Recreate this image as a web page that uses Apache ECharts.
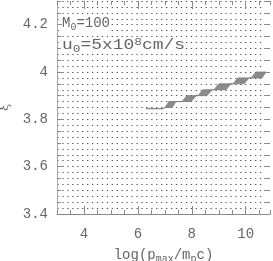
<!DOCTYPE html>
<html>
<head>
<meta charset="utf-8">
<script src="https://cdn.jsdelivr.net/npm/echarts@6/dist/echarts.min.js"></script>
<style>html,body{margin:0;padding:0;background:#fff}#c{width:273px;height:261px}</style>
</head>
<body>
<div id="c"></div>
<script>
// ---- data ----
const xLabelValues = [4, 6, 8, 10];
const yLabelValues = [3.4, 3.6, 3.8, 4.0, 4.2];
// upper boundary of the allowed band (left -> right)
const upperX = [6.30, 6.93, 7.01, 7.15, 7.41, 7.64, 7.82, 8.16, 8.23, 8.42, 8.75, 8.82, 9.01, 9.45, 9.53, 9.71, 10.12, 10.20, 10.38, 10.75];
const upperY = [3.845, 3.845, 3.85, 3.875, 3.875, 3.875, 3.9, 3.9, 3.9, 3.925, 3.925, 3.925, 3.95, 3.95, 3.95, 3.975, 3.975, 3.975, 4.0, 4.0];
// lower boundary of the allowed band (left -> right)
const lowerX = [6.30, 6.93, 7.01, 7.27, 7.41, 7.64, 7.97, 8.16, 8.23, 8.56, 8.75, 8.82, 9.27, 9.45, 9.53, 9.94, 10.12, 10.20, 10.60];
const lowerY = [3.845, 3.845, 3.85, 3.85, 3.875, 3.875, 3.875, 3.9, 3.9, 3.9, 3.925, 3.925, 3.925, 3.95, 3.95, 3.95, 3.975, 3.975, 3.975];
const annotation1 = ['M', '0', '=100'];
const annotation2 = ['u', '0', '=5x10', '8', 'cm/s'];

// ---- chart ----
const FONT = 'Liberation Mono';
const TXT = '#666';
const AX = '#8a8a8a';
const X0 = 3, X1 = 10.9, Y0 = 3.4, Y1 = 4.3;

const polyPoints = [];
for (let i = 0; i < upperX.length; i++) polyPoints.push([upperX[i], upperY[i]]);
for (let i = lowerX.length - 1; i >= 0; i--) polyPoints.push([lowerX[i], lowerY[i]]);

const chart = echarts.init(document.getElementById('c'), null, {renderer: 'canvas'});
chart.setOption({
  animation: false,
  backgroundColor: '#fff',
  grid: [
    {left: 57, right: 3, top: 1, bottom: 47, containLabel: false, outerBoundsMode: 'none'},
    {left: 57, right: 10, top: 1, bottom: 47, containLabel: false, outerBoundsMode: 'none'}
  ],
  xAxis: [
    {gridIndex: 0, type: 'value', position: 'bottom', min: X0, max: X1, interval: 0.5,
     axisLine: {show: true, lineStyle: {color: AX, width: 1}},
     axisTick: {show: true, inside: true, length: 4, lineStyle: {color: AX}},
     axisLabel: {show: true, customValues: xLabelValues, color: TXT, fontFamily: FONT, fontSize: 14, margin: 13},
     splitLine: {show: false},
     name: 'log(p{s|max}/m{s|p}c)', nameLocation: 'middle', nameGap: 30,
     nameTextStyle: {color: TXT, fontFamily: FONT, fontSize: 14, lineHeight: 16, verticalAlign: 'middle',
       rich: {s: {fontFamily: FONT, fontSize: 10, color: TXT, lineHeight: 16, padding: [8, 0, 0, 0], verticalAlign: 'middle'}}}
    },
    {gridIndex: 0, type: 'value', position: 'bottom', min: X0, max: X1, interval: 0.5,
     axisLine: {show: false}, axisLabel: {show: false}, splitLine: {show: false},
     axisTick: {show: true, inside: true, length: 8, customValues: xLabelValues, lineStyle: {color: AX}}},
    {gridIndex: 0, type: 'value', position: 'top', min: X0, max: X1, interval: 0.5,
     axisLine: {show: false}, axisLabel: {show: false}, splitLine: {show: false},
     axisTick: {show: true, inside: true, length: 4, lineStyle: {color: AX}}},
    {gridIndex: 0, type: 'value', position: 'top', min: X0, max: X1, interval: 0.5,
     axisLine: {show: false}, axisLabel: {show: false}, splitLine: {show: false},
     axisTick: {show: true, inside: true, length: 8, customValues: xLabelValues, lineStyle: {color: AX}}},
    {gridIndex: 1, type: 'value', min: 0, max: 1,
     axisLine: {show: false}, axisLabel: {show: false}, axisTick: {show: false}, splitLine: {show: false}}
  ],
  yAxis: [
    {gridIndex: 0, type: 'value', position: 'left', min: Y0, max: Y1, interval: 0.2,
     axisLine: {show: true, lineStyle: {color: '#aaa', width: 1}},
     axisTick: {show: true, inside: true, length: 7, customValues: yLabelValues, lineStyle: {color: AX}},
     axisLabel: {show: true, customValues: yLabelValues, color: TXT, fontFamily: FONT, fontSize: 14, margin: 9},
     splitLine: {show: false},
     name: 'ξ', nameLocation: 'middle', nameGap: 46, nameRotate: 90,
     nameTextStyle: {color: TXT, fontFamily: 'DejaVu Serif', fontSize: 13}
    },
    {gridIndex: 0, type: 'value', position: 'left', min: Y0, max: Y1, interval: 0.05,
     axisLine: {show: false}, axisLabel: {show: false}, splitLine: {show: false},
     axisTick: {show: true, inside: true, length: 4, lineStyle: {color: AX}}},
    {gridIndex: 0, type: 'value', position: 'right', min: Y0, max: Y1, interval: 0.05,
     axisLine: {show: false}, axisLabel: {show: false}, splitLine: {show: false},
     axisTick: {show: true, inside: true, length: 6, lineStyle: {color: AX}}},
    {gridIndex: 1, type: 'value', position: 'left', min: Y0, max: Y1, interval: 0.025,
     axisLine: {show: false}, axisLabel: {show: false}, axisTick: {show: false},
     splitLine: {show: true, lineStyle: {color: '#555', width: 1.2, type: [1.3, 3.64], dashOffset: 4.58}}}
  ],
  series: [
    {
      type: 'custom',
      coordinateSystem: 'cartesian2d',
      xAxisIndex: 0, yAxisIndex: 0,
      data: [[upperX[0], upperY[0]]],
      renderItem: function (params, api) {
        const pts = polyPoints.map(p => api.coord(p));
        return {
          type: 'polygon',
          shape: {points: pts},
          style: {fill: '#8c8c8c', stroke: '#7a7a7a', lineWidth: 0.8}
        };
      }
    }
  ],
  graphic: [
    {type: 'text', left: 62, top: 15, z: 10,
     style: {text: '{n|' + annotation1[0] + '}{s|' + annotation1[1] + '}{n|' + annotation1[2] + '}',
       backgroundColor: '#fff',
       rich: {n: {fontFamily: FONT, fontSize: 14, fill: TXT, lineHeight: 15, verticalAlign: 'middle'},
              s: {fontFamily: FONT, fontSize: 10, fill: TXT, lineHeight: 15, padding: [7, 0, 0, 0], verticalAlign: 'middle'}}}},
    {type: 'text', left: 62, top: 37, z: 10, scaleX: 1.28,
     style: {text: '{n|' + annotation2[0] + '}{s|' + annotation2[1] + '}{n|' + annotation2[2] + '}{p|' + annotation2[3] + '}{n|' + annotation2[4] + '}',
       backgroundColor: '#fff',
       rich: {n: {fontFamily: FONT, fontSize: 14, fill: TXT, lineHeight: 15, verticalAlign: 'middle'},
              s: {fontFamily: FONT, fontSize: 10, fill: TXT, lineHeight: 15, padding: [7, 0, 0, 0], verticalAlign: 'middle'},
              p: {fontFamily: FONT, fontSize: 10, fill: TXT, lineHeight: 15, padding: [0, 0, 7, 0], verticalAlign: 'middle'}}}}
  ]
});
</script>
</body>
</html>
